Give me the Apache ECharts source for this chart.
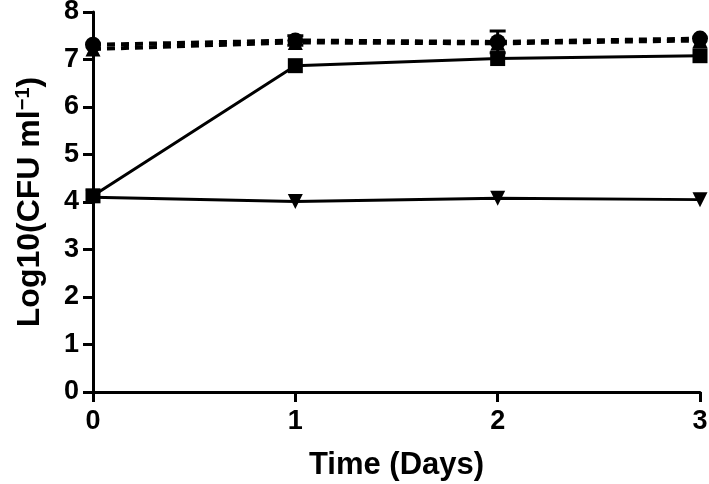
<!DOCTYPE html>
<html>
<head>
<meta charset="utf-8">
<script src="https://cdn.jsdelivr.net/npm/echarts@6/dist/echarts.min.js"></script>
<style>
html, body { margin: 0; padding: 0; background: #fff; }
#chart { width: 709px; height: 484px; }
</style>
</head>
<body>
<div id="chart"></div>
<script>
// time points (days)
const days = [0, 1, 2, 3]
// log10 CFU per ml
const circleVals = [7.31, 7.40, 7.37, 7.44]
const triUpVals = [7.22, 7.36, 7.34, 7.40]
const squareVals = [4.13, 6.87, 7.02, 7.08]
const triDownVals = [4.10, 4.01, 4.08, 4.05]
// error bars: [day, low, high]
const circleErr = [[1, 7.30, 7.50], [2, 7.14, 7.60]]

const pair = (vals) => days.map((d, i) => [d, vals[i]])
const black = '#000'
const font = 'Liberation Sans, Arial, sans-serif'

const chart = echarts.init(document.getElementById('chart'))

const option = {
    animation: false,
    grid: { left: 93, right: 9, top: 12, bottom: 92, outerBoundsMode: 'none', containLabel: false },
    xAxis: {
        type: 'value',
        min: 0,
        max: 3,
        interval: 1,
        name: 'Time (Days)',
        nameLocation: 'middle',
        nameGap: 58,
        nameTextStyle: { color: black, fontSize: 31, fontWeight: 'bold', fontFamily: font },
        axisLine: { lineStyle: { color: black, width: 3 } },
        axisTick: { show: true, length: 10, lineStyle: { color: black, width: 3 } },
        axisLabel: { color: black, fontSize: 27, fontWeight: 'bold', fontFamily: font, margin: 16 },
        splitLine: { show: false }
    },
    yAxis: {
        type: 'value',
        min: 0,
        max: 8,
        interval: 1,
        name: 'Log10(CFU ml{sup|−1})',
        nameLocation: 'middle',
        nameGap: 46,
        nameTextStyle: {
            color: black, fontSize: 32, fontWeight: 'bold', fontFamily: font,
            rich: {
                sup: { fontSize: 20, fontWeight: 'bold', color: black, fontFamily: font, verticalAlign: 'top', padding: [0, 0, 14, 0] }
            }
        },
        axisLine: { show: true, lineStyle: { color: black, width: 3 } },
        axisTick: { show: true, length: 10, lineStyle: { color: black, width: 3 } },
        axisLabel: { color: black, fontSize: 27, fontWeight: 'bold', fontFamily: font, margin: 14 },
        splitLine: { show: false }
    },
    series: [
        {
            type: 'custom',
            z: 1,
            renderItem: function (params, api) {
                const top = api.coord([api.value(0), api.value(2)])
                const bot = api.coord([api.value(0), api.value(1)])
                const w = 8
                const st = { stroke: black, lineWidth: 3 }
                return {
                    type: 'group',
                    children: [
                        { type: 'line', shape: { x1: top[0], y1: top[1], x2: bot[0], y2: bot[1] }, style: st },
                        { type: 'line', shape: { x1: top[0] - w, y1: top[1], x2: top[0] + w, y2: top[1] }, style: st },
                        { type: 'line', shape: { x1: bot[0] - w, y1: bot[1], x2: bot[0] + w, y2: bot[1] }, style: st }
                    ]
                }
            },
            data: circleErr
        },
        {
            type: 'line',
            data: pair(triUpVals),
            symbol: 'triangle',
            symbolSize: 15,
            itemStyle: { color: black },
            lineStyle: { color: black, width: 4, type: [8, 6] },
            z: 2
        },
        {
            type: 'line',
            data: pair(circleVals),
            symbol: 'circle',
            symbolSize: 16,
            itemStyle: { color: black },
            lineStyle: { color: black, width: 4, type: [8, 6] },
            z: 3
        },
        {
            type: 'line',
            data: pair(triDownVals),
            symbol: 'triangle',
            symbolRotate: 180,
            symbolSize: 15,
            itemStyle: { color: black },
            lineStyle: { color: black, width: 3 },
            z: 2
        },
        {
            type: 'line',
            data: pair(squareVals),
            symbol: 'rect',
            symbolSize: 15,
            itemStyle: { color: black },
            lineStyle: { color: black, width: 3 },
            z: 3
        }
    ]
}

chart.setOption(option)
</script>
</body>
</html>
